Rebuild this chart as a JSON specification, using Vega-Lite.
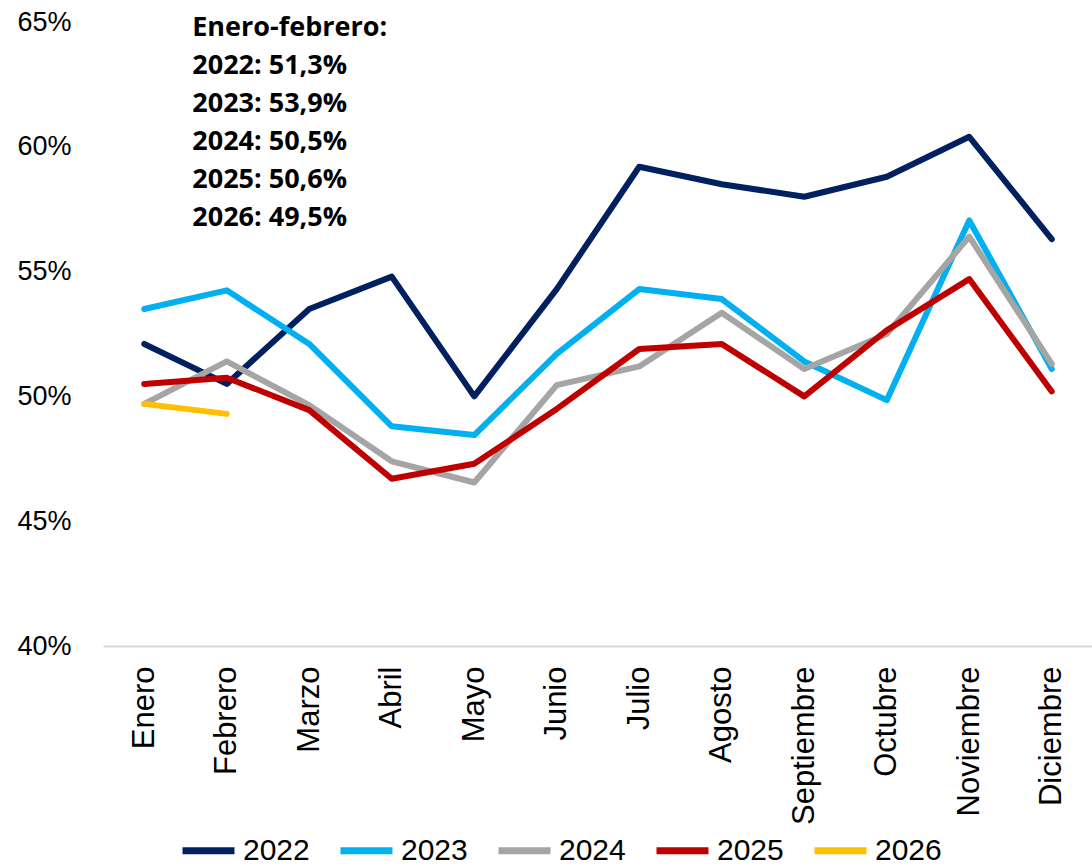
{
  "$schema": "https://vega.github.io/schema/vega-lite/v6.json",
  "autosize": {"type": "none"},
  "width": 990,
  "height": 624,
  "padding": {"left": 103, "top": 22, "right": 0, "bottom": 220},
  "background": "white",
  "config": {"view": {"stroke": null}, "font": "Liberation Sans"},
  "datasets": {
    "series": [
      {"mes": "Enero", "anio": "2022", "valor": 52.1},
      {"mes": "Febrero", "anio": "2022", "valor": 50.5},
      {"mes": "Marzo", "anio": "2022", "valor": 53.5},
      {"mes": "Abril", "anio": "2022", "valor": 54.8},
      {"mes": "Mayo", "anio": "2022", "valor": 50.0},
      {"mes": "Junio", "anio": "2022", "valor": 54.3},
      {"mes": "Julio", "anio": "2022", "valor": 59.2},
      {"mes": "Agosto", "anio": "2022", "valor": 58.5},
      {"mes": "Septiembre", "anio": "2022", "valor": 58.0},
      {"mes": "Octubre", "anio": "2022", "valor": 58.8},
      {"mes": "Noviembre", "anio": "2022", "valor": 60.4},
      {"mes": "Diciembre", "anio": "2022", "valor": 56.3},
      {"mes": "Enero", "anio": "2023", "valor": 53.5},
      {"mes": "Febrero", "anio": "2023", "valor": 54.25},
      {"mes": "Marzo", "anio": "2023", "valor": 52.1},
      {"mes": "Abril", "anio": "2023", "valor": 48.8},
      {"mes": "Mayo", "anio": "2023", "valor": 48.45},
      {"mes": "Junio", "anio": "2023", "valor": 51.7},
      {"mes": "Julio", "anio": "2023", "valor": 54.3},
      {"mes": "Agosto", "anio": "2023", "valor": 53.9},
      {"mes": "Septiembre", "anio": "2023", "valor": 51.4},
      {"mes": "Octubre", "anio": "2023", "valor": 49.85},
      {"mes": "Noviembre", "anio": "2023", "valor": 57.05},
      {"mes": "Diciembre", "anio": "2023", "valor": 51.1},
      {"mes": "Enero", "anio": "2024", "valor": 49.7},
      {"mes": "Febrero", "anio": "2024", "valor": 51.4},
      {"mes": "Marzo", "anio": "2024", "valor": 49.65},
      {"mes": "Abril", "anio": "2024", "valor": 47.4},
      {"mes": "Mayo", "anio": "2024", "valor": 46.55},
      {"mes": "Junio", "anio": "2024", "valor": 50.45},
      {"mes": "Julio", "anio": "2024", "valor": 51.2},
      {"mes": "Agosto", "anio": "2024", "valor": 53.35},
      {"mes": "Septiembre", "anio": "2024", "valor": 51.1},
      {"mes": "Octubre", "anio": "2024", "valor": 52.5},
      {"mes": "Noviembre", "anio": "2024", "valor": 56.4},
      {"mes": "Diciembre", "anio": "2024", "valor": 51.3},
      {"mes": "Enero", "anio": "2025", "valor": 50.5},
      {"mes": "Febrero", "anio": "2025", "valor": 50.75},
      {"mes": "Marzo", "anio": "2025", "valor": 49.45},
      {"mes": "Abril", "anio": "2025", "valor": 46.7},
      {"mes": "Mayo", "anio": "2025", "valor": 47.3},
      {"mes": "Junio", "anio": "2025", "valor": 49.5},
      {"mes": "Julio", "anio": "2025", "valor": 51.9},
      {"mes": "Agosto", "anio": "2025", "valor": 52.1},
      {"mes": "Septiembre", "anio": "2025", "valor": 50.0},
      {"mes": "Octubre", "anio": "2025", "valor": 52.65},
      {"mes": "Noviembre", "anio": "2025", "valor": 54.7},
      {"mes": "Diciembre", "anio": "2025", "valor": 50.2},
      {"mes": "Enero", "anio": "2026", "valor": 49.7},
      {"mes": "Febrero", "anio": "2026", "valor": 49.3}
    ],
    "nota": [
      {"mes": "Enero", "valor": 65, "texto": "Enero-febrero:\n2022: 51,3%\n2023: 53,9%\n2024: 50,5%\n2025: 50,6%\n2026: 49,5%"}
    ]
  },
  "layer": [
    {
      "data": {"name": "series"},
      "mark": {"type": "line", "strokeWidth": 6, "strokeCap": "round", "strokeJoin": "round"},
      "encoding": {
        "x": {
          "field": "mes", "type": "ordinal",
          "scale": {"type": "point", "padding": 0.5, "domain": ["Enero","Febrero","Marzo","Abril","Mayo","Junio","Julio","Agosto","Septiembre","Octubre","Noviembre","Diciembre"]},
          "axis": {
            "title": null, "ticks": false, "domain": true, "domainColor": "#d9d9d9", "domainWidth": 2,
            "grid": false, "labelAngle": -90, "labelAlign": "right", "labelBaseline": "middle",
            "labelPadding": 20, "labelFontSize": 31, "labelColor": "#000000", "labelFont": "Liberation Sans"
          }
        },
        "y": {
          "field": "valor", "type": "quantitative",
          "scale": {"domain": [40, 65], "nice": false, "zero": false},
          "axis": {
            "title": null, "ticks": false, "domain": false, "grid": false,
            "values": [40, 45, 50, 55, 60, 65], "labelExpr": "datum.value + '%'",
            "labelPadding": 32, "labelFontSize": 27, "labelColor": "#000000", "labelFont": "Liberation Sans"
          }
        },
        "color": {
          "field": "anio", "type": "nominal",
          "scale": {"domain": ["2022","2023","2024","2025","2026"], "range": ["#002060","#00B0F0","#A5A5A5","#C00000","#FFC000"]},
          "legend": {
            "title": null, "orient": "none", "legendX": 76, "legendY": 799, "direction": "horizontal", "symbolType": "stroke",
            "symbolStrokeWidth": 7, "symbolSize": 2700, "labelFontSize": 30, "labelColor": "#000000",
            "labelFont": "Liberation Sans", "columnPadding": 16, "labelOffset": 5
          }
        }
      }
    },
    {
      "data": {"name": "nota"},
      "mark": {"type": "text", "align": "left", "baseline": "top", "dx": 48, "dy": -7, "lineBreak": "\n", "lineHeight": 38, "font": "Open Sans", "fontWeight": "bold", "fontSize": 27, "color": "#000000"},
      "encoding": {
        "x": {"field": "mes", "type": "ordinal"},
        "y": {"field": "valor", "type": "quantitative"},
        "text": {"field": "texto"}
      }
    }
  ]
}
